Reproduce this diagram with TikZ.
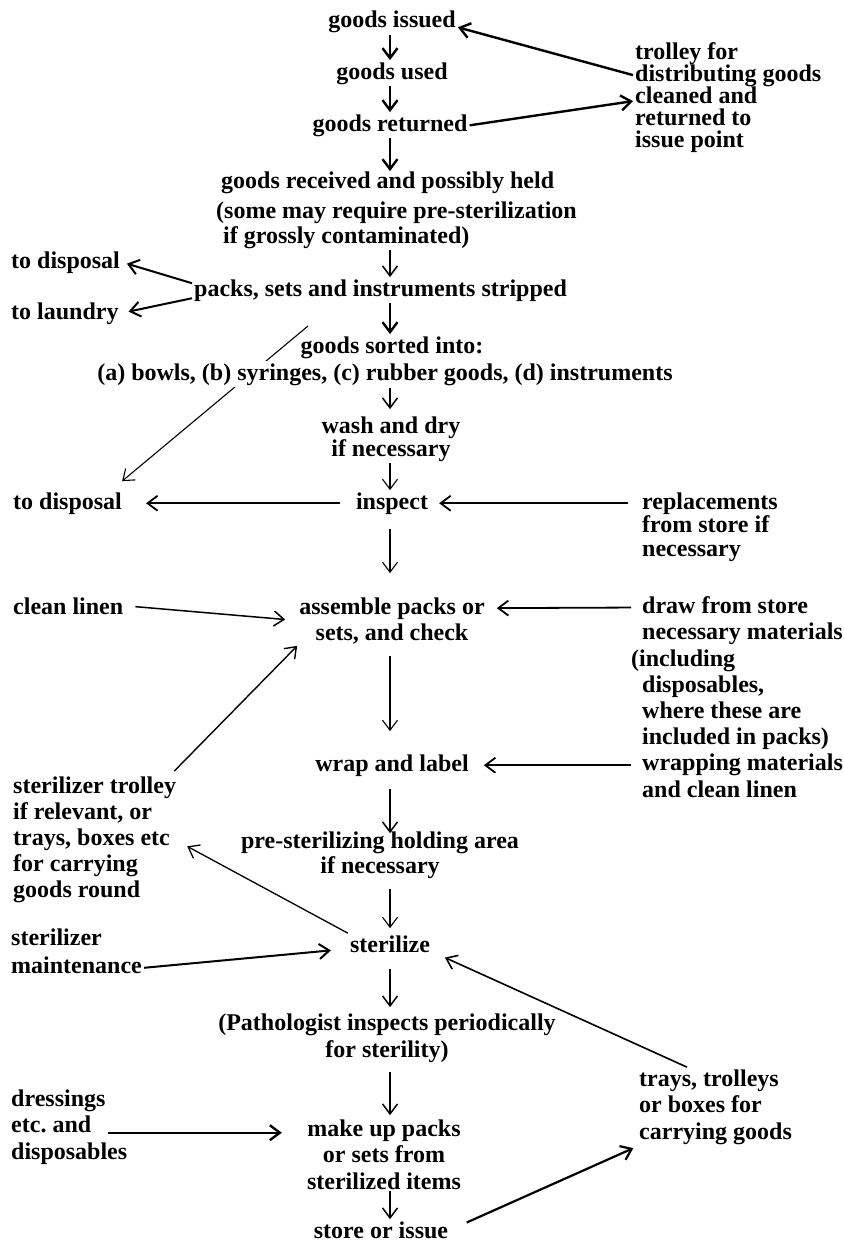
\documentclass[tikz,border=0pt]{standalone}
\usepackage{fontspec}
\setmainfont{Liberation Serif}
\usetikzlibrary{arrows.meta,backgrounds,calc}
\frenchspacing
\newcommand\blk[1]{\fontsize{24}{#1}\selectfont\bfseries}
\begin{document}
\begin{tikzpicture}[x=1pt,y=-1pt,
  lbl/.style={inner sep=2pt,font=\blk{26}},
  arr/.style={-{Straight Barb[length=10pt,width=15pt]},line width=1.5pt},
  arrT/.style={arr,line width=2.4pt},
  arrt/.style={arr,line width=1.1pt}]
\useasboundingbox (0,0) rectangle (843,1247);
\coordinate (col) at (390,0);
\coordinate (diag) at (308,326);
% nodes (base anchor of a multi-line node = baseline of its last line)
\node[lbl,anchor=base] (issued) at (392,28) {goods issued};
\node[lbl,anchor=base] (used) at (392,79) {goods used};
\node[lbl,anchor=base] (returned) at (390,131) {goods returned};
\node[lbl,anchor=base west,align=left,font=\blk{22}] (trolley) at (633,147) {trolley for\\distributing goods\\cleaned and\\returned to\\issue point};
\node[lbl,anchor=base west,align=left,font=\blk{25}] (received) at (214,243) {\hspace*{5pt}goods received and possibly held\\[5pt](some may require pre-sterilization\\\hspace*{7pt}if grossly contaminated)};
\node[lbl,anchor=base west] (disp1) at (9,268) {to disposal};
\node[lbl,anchor=base west] (packs) at (192,296) {packs, sets and instruments stripped};
\node[lbl,anchor=base west] (laundry) at (9,319) {to laundry};
\node[lbl,anchor=base] (sorted) at (392,353) {goods sorted into:};
\node[lbl,anchor=base,fill=white] (bowls) at (385,380) {(a) bowls, (b) syringes, (c) rubber goods, (d) instruments};
\node[lbl,anchor=base,align=center,font=\blk{23}] (wash) at (391,456) {wash and dry\\if necessary};
\node[lbl,anchor=base west] (disp2) at (11,509) {to disposal};
\node[lbl,anchor=base] (inspect) at (392,509) {inspect};
\node[lbl,anchor=base west,align=left,font=\blk{23.5}] (replace) at (640,556) {replacements\\from store if\\necessary};
\node[lbl,anchor=base west] (linen) at (11,614) {clean linen};
\node[lbl,anchor=base,align=center] (assemble) at (392,640) {assemble packs or\\sets, and check};
\node[lbl,anchor=base west,align=left,font=\blk{26.2}] (draw) at (640,797) {draw from store\\necessary materials\\\hspace*{-11pt}(including\\disposables,\\where these are\\included in packs)\\wrapping materials\\and clean linen};
\node[lbl,anchor=base] (wrap) at (392,771) {wrap and label};
\node[lbl,anchor=base west,align=left] (strolley) at (11,897) {sterilizer trolley\\if relevant, or\\trays, boxes etc\\for carrying\\goods round};
\node[lbl,anchor=base,align=center,font=\blk{25}] (preholding) at (380,873) {pre-sterilizing holding area\\if necessary};
\node[lbl,anchor=base west,align=left,font=\blk{28}] (stermaint) at (9,973) {sterilizer\\maintenance};
\node[lbl,anchor=base] (sterilize) at (390,952) {sterilize};
\node[lbl,anchor=base,align=center,font=\blk{27}] (patho) at (387,1057) {(Pathologist inspects periodically\\for sterility)};
\node[lbl,anchor=base west,align=left,font=\blk{26.5}] (trays) at (637,1139) {trays, trolleys\\or boxes for\\carrying goods};
\node[lbl,anchor=base west,align=left,font=\blk{26.5}] (dressings) at (9,1159) {dressings\\etc. and\\disposables};
\node[lbl,anchor=base,align=center,font=\blk{26.5}] (makeup) at (384,1189) {make up packs\\or sets from\\sterilized items};
\node[lbl,anchor=base] (store) at (381,1238) {store or issue};
% background and hidden diagonal
\begin{scope}[on background layer]
\fill[white] (0,0) rectangle (843,1247);
\draw[arrt] (diag) -- ([xshift=-2pt,yshift=9pt]disp2.north east);
\end{scope}
% main column
\draw[arrT] (issued.south -| col) -- (used.north -| col);
\draw[arrT] (used.south -| col) -- (returned.north -| col);
\draw[arrT,shorten >=-2pt] (returned.south -| col) -- (received.north -| col);
\draw[arr] (received.south -| col) -- (packs.north -| col);
\draw[arrT] (packs.south -| col) -- (sorted.north -| col);
\draw[arr,shorten >=5pt] (bowls.south -| col) -- (wash.north -| col);
\draw[arrt] (wash.south -| col) -- (inspect.north -| col);
\draw[arrt,shorten <=13pt,shorten >=22pt] (inspect.south -| col) -- (assemble.north -| col);
\draw[arrt,shorten <=10pt,shorten >=21pt] (assemble.south -| col) -- (wrap.north -| col);
\draw[arr,shorten <=11pt,shorten >=-4pt] (wrap.south -| col) -- (preholding.north -| col);
\draw[arrt,shorten <=9pt,shorten >=5pt] (preholding.south -| col) -- (sterilize.north -| col);
\draw[arr,shorten <=15pt,shorten >=4pt] (sterilize.south -| col) -- (patho.north -| col);
\draw[arr,shorten <=8pt,shorten >=2pt] (patho.south -| col) -- (makeup.north -| col);
\draw[arr] (makeup.south -| col) -- (store.north -| col);
% side arrows
\draw[arrT] ([yshift=22pt]trolley.west) -- ([yshift=-5pt]issued.east);
\draw[arrT] (returned.east) -- ([yshift=-4pt]trolley.west);
\draw[arr,line width=2pt,shorten >=5pt] ([yshift=7pt]packs.west) -- (disp1.east);
\draw[arr,line width=2pt,shorten >=8pt] ([yshift=-8pt]packs.west) -- (laundry.east);
\draw[arr,line width=1.8pt,shorten <=14pt,shorten >=22pt] (inspect.west) -- (disp2.east |- inspect.west);
\draw[arr,line width=1.8pt,shorten <=12pt,shorten >=9pt] (replace.west |- inspect.east) -- (inspect.east);
\draw[arr,shorten <=10pt,shorten >=12pt] (linen.east) -- (assemble.west);
\draw[arr,line width=1.8pt,shorten <=9pt,shorten >=10pt] ([yshift=-13pt]draw.north west) -- ([yshift=-13pt]assemble.north east);
\draw[arr,line width=1.8pt,shorten <=9pt,shorten >=13pt] (draw.west |- wrap.east) -- (wrap.east);
\draw[arr,line width=1.4pt] ([xshift=-4pt,yshift=3pt]strolley.north east) -- (assemble.south west);
\draw[arr,line width=1.3pt] (sterilize.north west) -- ([xshift=9pt,yshift=-7pt]strolley.east);
\draw[arr,line width=2pt,shorten >=17pt] ([yshift=-17pt]stermaint.east) -- ([yshift=-5pt]sterilize.west);
\draw[arr,line width=1.6pt,shorten >=14pt] ([xshift=50pt]trays.north west) -- ([yshift=-8pt]sterilize.east);
\draw[arrT,shorten >=23pt] ([xshift=99pt,yshift=-6pt]dressings.west) -- ($(makeup.west |- dressings.west)+(0,6)$);
\draw[arr,line width=2.2pt,shorten <=18pt,shorten >=4pt] (store.east) -- (trays.south west);
\end{tikzpicture}
\end{document}
